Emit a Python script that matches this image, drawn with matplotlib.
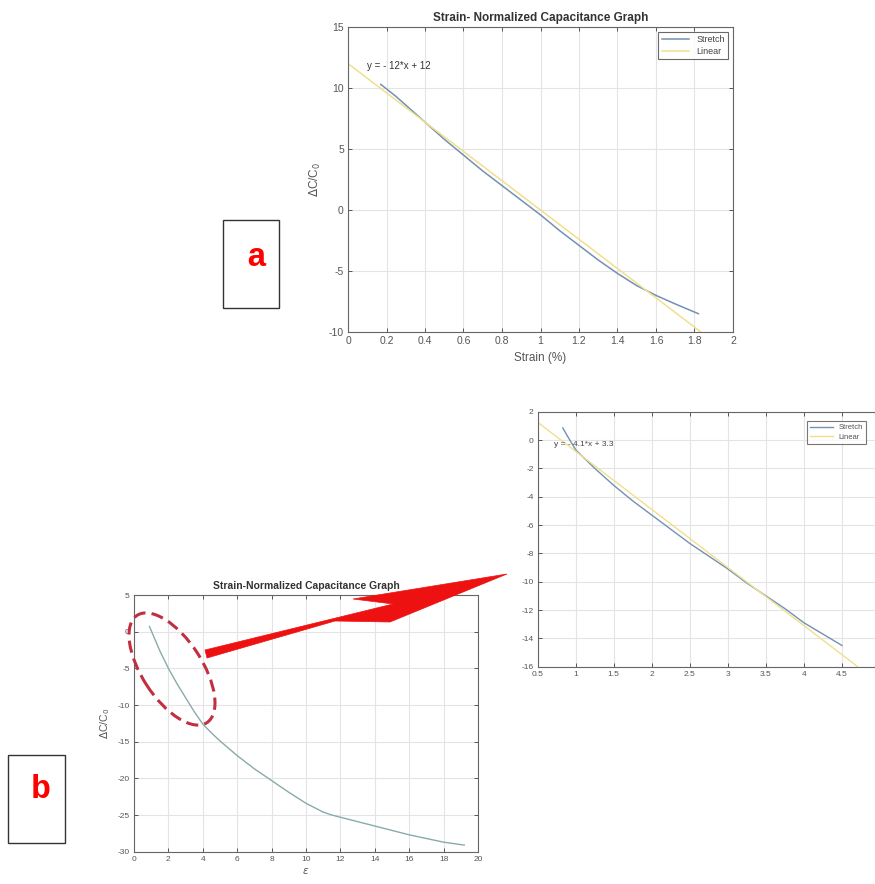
import matplotlib
matplotlib.use("Agg")
import matplotlib.pyplot as plt
from matplotlib.patches import Rectangle, Polygon, Ellipse
from matplotlib.transforms import IdentityTransform

plt.rcParams['font.family'] = ['Liberation Sans', 'DejaVu Sans']
plt.rcParams['axes.unicode_minus'] = False

# --- data ---
# (a) strain in % vs dC/C0
strain_a = [0.17, 0.25, 0.3, 0.4, 0.5, 0.6, 0.7, 0.8, 0.9, 1.0, 1.1, 1.2, 1.3, 1.4, 1.5, 1.6, 1.7, 1.82]
stretch_a = [10.3, 9.3, 8.6, 7.2, 5.8, 4.5, 3.2, 2.0, 0.8, -0.4, -1.7, -2.9, -4.1, -5.2, -6.2, -7.0, -7.7, -8.5]
fit_a_x = [0.0, 1.83]
fit_a_slope, fit_a_icpt = -12, 12

# (b) zoomed part
strain_b = [0.83, 0.9, 1.0, 1.25, 1.5, 1.75, 2.0, 2.25, 2.5, 2.75, 3.0, 3.25, 3.5, 3.75, 4.0, 4.25, 4.5]
stretch_b = [0.85, 0.2, -0.7, -2.0, -3.2, -4.3, -5.3, -6.3, -7.3, -8.2, -9.1, -10.1, -11.0, -11.9, -12.9, -13.7, -14.5]
fit_b_x = [0.5, 4.7]
fit_b_slope, fit_b_icpt = -4.1, 3.3

# (b) full range
eps_full = [0.9, 1.5, 2, 2.5, 3, 3.5, 4, 4.5, 5, 6, 7, 8, 9, 10, 11, 11.5, 12, 13, 14, 15, 16, 17, 18, 19.2]
dc_full = [0.7, -2.6, -5.0, -7.1, -9.0, -10.9, -12.6, -13.8, -14.9, -16.9, -18.7, -20.3, -21.9, -23.4,
           -24.6, -25.0, -25.3, -25.9, -26.5, -27.1, -27.7, -28.2, -28.7, -29.1]

W, H = 875, 884
c_stretch = '#7391b3'
c_linear = '#f0e08c'
c_full = '#8aaaaa'
c_axis = '#555555'


def style(ax, fs):
    ax.grid(True, color='#e4e4e4', linewidth=0.8)
    ax.set_axisbelow(True)
    ax.tick_params(direction='in', top=True, right=True, length=3, width=0.7,
                   labelsize=fs, colors=c_axis, pad=3)
    for s in ax.spines.values():
        s.set_color('#666666')
        s.set_linewidth(0.8)


fig = plt.figure(figsize=(W / 100, H / 100), dpi=100)

# ---- (a)
ax1 = fig.add_axes([348 / W, 1 - 332 / H, 385 / W, 305 / H])
ax1.plot(strain_a, stretch_a, color=c_stretch, lw=1.1, label='Stretch')
ax1.plot(fit_a_x, [fit_a_slope * x + fit_a_icpt for x in fit_a_x], color=c_linear, lw=1.1, label='Linear')
ax1.set_xlim(0, 2)
ax1.set_ylim(-10, 15)
ax1.set_xticks([0, 0.2, 0.4, 0.6, 0.8, 1, 1.2, 1.4, 1.6, 1.8, 2])
ax1.set_xticklabels(['0', '0.2', '0.4', '0.6', '0.8', '1', '1.2', '1.4', '1.6', '1.8', '2'])
ax1.set_yticks([-10, -5, 0, 5, 10, 15])
style(ax1, 7.5)
ax1.set_title('Strain- Normalized Capacitance Graph', fontsize=8.5, fontweight='bold', color='#333333', pad=4)
ax1.set_xlabel('Strain (%)', fontsize=8.5, color=c_axis)
ax1.set_ylabel(r'$\Delta$C/C$_0$', fontsize=8.5, color=c_axis)
ax1.text(0.1, 11.8, 'y = - 12*x + 12', fontsize=7, color='#333333', va='center')
leg = ax1.legend(loc='upper right', fontsize=6.5, handlelength=3, frameon=True, fancybox=False,
                 borderpad=0.4, labelspacing=0.3)
leg.get_frame().set_edgecolor('#444444')
leg.get_frame().set_linewidth(0.8)
for t in leg.get_texts():
    t.set_color('#444444')

# ---- (b) zoomed (right edge is cropped in the source)
ax2 = fig.add_axes([537.7 / W, 1 - 666.7 / H, 342.3 / W, 255 / H])
ax2.plot(strain_b, stretch_b, color=c_stretch, lw=1.0, label='Stretch')
ax2.plot(fit_b_x, [fit_b_slope * x + fit_b_icpt for x in fit_b_x], color=c_linear, lw=1.0, label='Linear')
ax2.set_xlim(0.5, 5)
ax2.set_ylim(-16, 2)
ax2.set_xticks([0.5, 1, 1.5, 2, 2.5, 3, 3.5, 4, 4.5])
ax2.set_xticklabels(['0.5', '1', '1.5', '2', '2.5', '3', '3.5', '4', '4.5'])
ax2.set_yticks(list(range(-16, 3, 2)))
style(ax2, 6)
ax2.text(0.72, -0.35, 'y = - 4.1*x + 3.3', fontsize=6, color='#444444', va='center')
leg2 = ax2.legend(loc='upper right', bbox_to_anchor=(870 / W, 1 - 417 / H), bbox_transform=fig.transFigure,
                  fontsize=5.5, handlelength=3, frameon=True, fancybox=False, borderpad=0.4, labelspacing=0.3)
leg2.get_frame().set_edgecolor('#555555')
leg2.get_frame().set_linewidth(0.8)
for t in leg2.get_texts():
    t.set_color('#555555')

# ---- (b) full
ax3 = fig.add_axes([134 / W, 1 - 851.7 / H, 344 / W, 256.7 / H])
ax3.plot(eps_full, dc_full, color=c_full, lw=1.0)
ax3.set_xlim(0, 20)
ax3.set_ylim(-30, 5)
ax3.set_xticks(list(range(0, 21, 2)))
ax3.set_yticks([-30, -25, -20, -15, -10, -5, 0, 5])
style(ax3, 6)
ax3.set_title('Strain-Normalized Capacitance Graph', fontsize=7.5, fontweight='bold', color='#333333', pad=4)
ax3.set_xlabel(r'$\epsilon$', fontsize=7.5, color=c_axis, labelpad=2)
ax3.set_ylabel(r'$\Delta$C/C$_0$', fontsize=7.5, color=c_axis)

# ---- decorations (pixel coordinates, y from top)
ident = IdentityTransform()


def px(x, y):
    return (x, H - y)


fig.add_artist(Rectangle(px(222.7, 308.3), 56.3, 88.3, transform=ident, fill=False,
                         edgecolor='#333333', lw=1.0))
fig.add_artist(Rectangle(px(8.3, 842.7), 56.7, 88, transform=ident, fill=False,
                         edgecolor='#333333', lw=1.0))
fig.text(*px(256, 257), 'a', transform=ident, color='red', fontsize=24, fontweight='bold',
         family='Liberation Mono', ha='center', va='center')
fig.text(*px(41, 789), 'b', transform=ident, color='red', fontsize=24, fontweight='bold',
         family='Liberation Mono', ha='center', va='center')

arrow = [px(205, 650), px(393, 604), px(353, 599), px(507, 574), px(390, 622), px(335, 621), px(207, 658)]
fig.add_artist(Polygon(arrow, closed=True, transform=ident, facecolor='#ee1111', edgecolor='#ee1111', lw=0.5))

fig.add_artist(Ellipse(px(172, 669), 128, 60, angle=-57, transform=ident, fill=False,
                       edgecolor='#c03040', lw=2.2, linestyle=(0, (4, 2))))

fig.savefig('out.png', dpi=100)
